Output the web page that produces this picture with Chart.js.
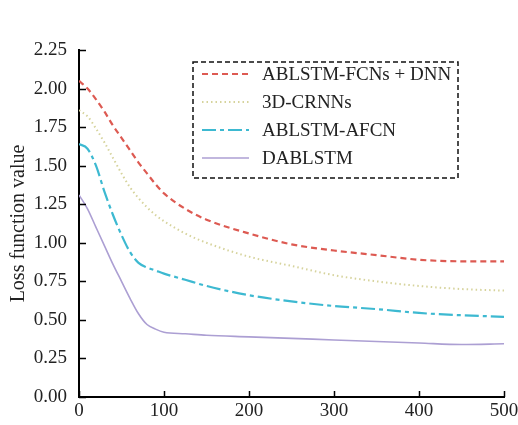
<!DOCTYPE html>
<html>
<head>
<meta charset="utf-8">
<script src="https://cdn.jsdelivr.net/npm/chart.js@4/dist/chart.umd.min.js"></script>
<style>
  html, body { margin: 0; padding: 0; background: #fff; }
  #wrap { width: 518px; height: 425px; }
</style>
</head>
<body>
<div id="wrap"><canvas id="myChart" width="518" height="425"></canvas></div>
<script>
const epochs = [0, 10, 20, 30, 40, 50, 60, 70, 80, 90, 100, 125, 150, 200, 250, 300, 350, 400, 450, 500]

const fcnsDnn = [2.05, 2.00, 1.93, 1.85, 1.76, 1.68, 1.60, 1.52, 1.45, 1.38, 1.32, 1.22, 1.15, 1.06, 0.99, 0.95, 0.92, 0.89, 0.88, 0.88]
const crnn3d = [1.86, 1.82, 1.74, 1.65, 1.55, 1.45, 1.36, 1.29, 1.23, 1.18, 1.14, 1.06, 1.00, 0.91, 0.85, 0.79, 0.75, 0.72, 0.70, 0.69]
const afcn = [1.64, 1.61, 1.50, 1.33, 1.18, 1.05, 0.94, 0.87, 0.84, 0.82, 0.80, 0.76, 0.72, 0.66, 0.62, 0.59, 0.57, 0.545, 0.53, 0.52]
const dablstm = [1.31, 1.22, 1.10, 0.98, 0.86, 0.75, 0.64, 0.54, 0.47, 0.44, 0.42, 0.41, 0.40, 0.39, 0.38, 0.37, 0.36, 0.35, 0.34, 0.345]

const seriesNames = ['ABLSTM-FCNs + DNN', '3D-CRNNs', 'ABLSTM-AFCN', 'DABLSTM']
const yTicks = [0, 0.25, 0.5, 0.75, 1, 1.25, 1.5, 1.75, 2, 2.25]

const serif = 'Liberation Serif'

function pts(values) {
  return values.map((v, i) => ({ x: epochs[i], y: v }))
}

// ticks pointing into the plot
const innerTicks = {
  id: 'innerTicks',
  afterDraw(chart) {
    const c = chart.ctx
    const xs = chart.scales.x
    const ys = chart.scales.y
    c.save()
    c.strokeStyle = '#000'
    c.lineWidth = 1.5
    c.beginPath()
    xs.ticks.forEach((t, i) => {
      const px = Math.round(xs.getPixelForTick(i)) + 0.5
      c.moveTo(px, ys.bottom)
      c.lineTo(px, ys.bottom - 6)
    })
    ys.ticks.forEach((t, i) => {
      const py = Math.round(ys.getPixelForTick(i)) + 0.5
      c.moveTo(xs.left, py)
      c.lineTo(xs.left + 7, py)
    })
    c.stroke()
    c.restore()
  }
}

// dashed-frame legend
const boxLegend = {
  id: 'boxLegend',
  afterDraw(chart) {
    const c = chart.ctx
    const left = 193, top = 62, right = 458, bottom = 178
    c.save()
    c.setLineDash([5, 3])
    c.strokeStyle = '#111'
    c.lineWidth = 1.5
    c.strokeRect(left, top, right - left, bottom - top)
    const rows = [74, 102, 130, 158]
    chart.data.datasets.forEach((ds, i) => {
      c.setLineDash(ds.borderDash || [])
      c.strokeStyle = ds.borderColor
      c.lineWidth = ds.borderWidth
      c.beginPath()
      c.moveTo(202, rows[i])
      c.lineTo(249, rows[i])
      c.stroke()
      c.setLineDash([])
      c.fillStyle = '#222'
      c.font = '19px "' + serif + '"'
      c.textBaseline = 'middle'
      c.fillText(ds.label, 262, rows[i] + 1)
    })
    c.restore()
  }
}

const ctx = document.getElementById('myChart')

new Chart(ctx, {
  type: 'line',
  data: {
    datasets: [
      { label: seriesNames[0], data: pts(fcnsDnn), borderColor: '#dd5a52', borderWidth: 2.2, borderDash: [6, 4] },
      { label: seriesNames[1], data: pts(crnn3d), borderColor: '#d6d39c', borderWidth: 2, borderDash: [1.5, 3] },
      { label: seriesNames[2], data: pts(afcn), borderColor: '#3db9d1', borderWidth: 2.2, borderDash: [14, 4, 4, 4] },
      { label: seriesNames[3], data: pts(dablstm), borderColor: '#ac9fd3', borderWidth: 1.6 }
    ]
  },
  options: {
    responsive: false,
    animation: false,
    layout: { padding: { top: 50, right: 0, left: 0, bottom: 0 } },
    elements: {
      point: { radius: 0 },
      line: { tension: 0.4, cubicInterpolationMode: 'monotone', fill: false }
    },
    plugins: {
      legend: { display: false },
      tooltip: { enabled: false }
    },
    scales: {
      x: {
        type: 'linear',
        min: 0,
        max: 500,
        afterFit(scale) {
          scale.height = 28
          scale.paddingRight = 14
        },
        ticks: {
          stepSize: 100,
          color: '#222',
          padding: 3,
          maxRotation: 0,
          font: { family: serif, size: 19 }
        },
        grid: { display: true, drawOnChartArea: false, drawTicks: false, color: 'rgba(0,0,0,0)' },
        border: { display: true, color: '#000', width: 2 }
      },
      y: {
        min: 0,
        max: 2.25,
        afterBuildTicks(scale) {
          scale.ticks = yTicks.map(v => ({ value: v }))
        },
        afterFit(scale) { scale.width = 79 },
        ticks: {
          color: '#222',
          padding: 12,
          font: { family: serif, size: 19 },
          callback: v => Number(v).toFixed(2)
        },
        title: {
          display: true,
          text: 'Loss function value',
          color: '#222',
          padding: { top: 7, bottom: 0 },
          font: { family: serif, size: 20 }
        },
        grid: { display: true, drawOnChartArea: false, drawTicks: false, color: 'rgba(0,0,0,0)' },
        border: { display: true, color: '#000', width: 2 }
      }
    }
  },
  plugins: [innerTicks, boxLegend]
})
</script>
</body>
</html>
